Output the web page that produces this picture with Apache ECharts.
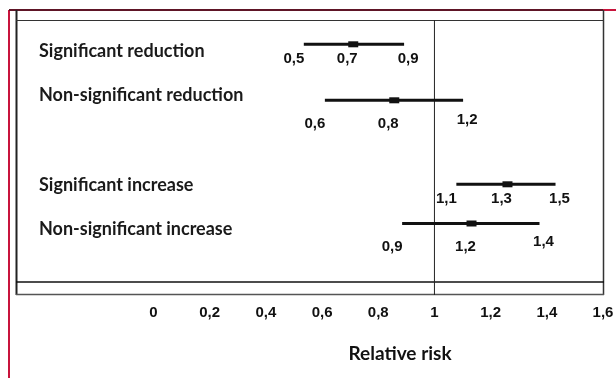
<!DOCTYPE html>
<html><head><meta charset="utf-8">
<script src="https://cdn.jsdelivr.net/npm/echarts@6/dist/echarts.min.js"></script>
<style>html,body{margin:0;padding:0;background:#fff}#c{width:616px;height:378px}</style>
</head><body><div id="c"></div>
<script>
// ---- data ----
const rowNames = ['Significant reduction', 'Non-significant reduction', 'Significant increase', 'Non-significant increase'];
const lowerVals = [0.535, 0.610, 1.078, 0.885];
const estVals   = [0.711, 0.857, 1.260, 1.132];
const upperVals = [0.892, 1.102, 1.431, 1.374];
const lowerText = ['0,5', '0,6', '1,1', '0,9'];
const estText   = ['0,7', '0,8', '1,3', '1,2'];
const upperText = ['0,9', '1,2', '1,5', '1,4'];
const xTickLabels = ['0', '0,2', '0,4', '0,6', '0,8', '1', '1,2', '1,4', '1,6'];
const referenceValue = 1;
const axisTitle = 'Relative risk';

// ---- layout (not data) ----
const rowSlot = [0, 10, 25, 32];
const slotCount = 33;
const labelDyMain = [15, 24, 15, 23];
const labelDyUpper = [15, 19.5, 15, 18.5];
const rowLabelShift = [6.4, -4.8, 1.2, 5.5];

const categories = [];
for (let s = 0; s < slotCount; s++) {
  const r = rowSlot.indexOf(s);
  categories.push(r >= 0 ? rowNames[r] : '');
}
const seriesData = rowNames.map((n, i) => [lowerVals[i], estVals[i], upperVals[i], rowSlot[i]]);

const rowRich = {};
rowLabelShift.forEach((d, i) => {
  rowRich['r' + i] = {padding: d >= 0 ? [2 * d, 0, 0, 0] : [0, 0, -2 * d, 0]};
});

const numFont = 'Liberation Sans';
const chart = echarts.init(document.getElementById('c'), null, {renderer: 'canvas'});

function txt(x, y, t) {
  return {type: 'text', x: x, y: y, style: {text: t, align: 'center', verticalAlign: 'middle',
    fontFamily: numFont, fontWeight: 'bold', fontSize: 15, fill: '#111'}};
}

const option = {
  animation: false,
  backgroundColor: '#ffffff',
  title: {text: axisTitle, left: 400, top: 344, textAlign: 'center', padding: 0,
    textStyle: {fontFamily: 'Lato', fontWeight: 'bold', fontSize: 19, color: '#111'}},
  grid: {left: 153.5, top: 41.5, width: 449.5, height: 184.8, containLabel: false, outerBoundsMode: 'none'},
  xAxis: {
    type: 'value', min: 0, max: 1.6, interval: 0.2,
    axisLine: {show: false}, axisTick: {show: false}, splitLine: {show: false},
    axisLabel: {margin: 79, showMinLabel: true, showMaxLabel: true,
      fontFamily: numFont, fontWeight: 'bold', fontSize: 15, color: '#111',
      formatter: (v) => xTickLabels[Math.round(v / 0.2)]}
  },
  yAxis: {
    type: 'category', data: categories, inverse: true,
    axisLine: {show: false}, axisTick: {show: false}, splitLine: {show: false},
    axisLabel: {align: 'left', margin: 114.5, interval: 0,
      fontFamily: 'Lato', fontWeight: 'bold', fontSize: 18, color: '#1a1a1a',
      formatter: function (v, idx) {
        const r = rowSlot.indexOf(idx);
        return r >= 0 ? '{r' + r + '|' + v + '}' : '';
      },
      rich: rowRich}
  },
  series: [{
    type: 'custom',
    encode: {x: [0, 1, 2], y: 3},
    data: seriesData,
    renderItem: function (params, api) {
      const i = params.dataIndex;
      const slot = api.value(3);
      const pL = api.coord([api.value(0), slot]);
      const pE = api.coord([api.value(1), slot]);
      const pU = api.coord([api.value(2), slot]);
      return {type: 'group', children: [
        {type: 'line', shape: {x1: pL[0], y1: pL[1], x2: pU[0], y2: pU[1]}, style: {stroke: '#111', lineWidth: 3}},
        {type: 'rect', shape: {x: pE[0] - 5, y: pE[1] - 3, width: 10, height: 6}, style: {fill: '#111'}},
        txt(pL[0] - 10, pL[1] + labelDyMain[i], lowerText[i]),
        txt(pE[0] - 6, pE[1] + labelDyMain[i], estText[i]),
        txt(pU[0] + 4, pU[1] + labelDyUpper[i], upperText[i])
      ]};
    }
  }],
  graphic: []
};
chart.setOption(option);

const refX = chart.convertToPixel({xAxisIndex: 0}, referenceValue);
const frame = [
  {type: 'line', shape: {x1: 9, y1: 10, x2: 9, y2: 378}, style: {stroke: '#c8143c', lineWidth: 2}},
  {type: 'line', shape: {x1: 603, y1: 10, x2: 616, y2: 10}, style: {stroke: '#c8143c', lineWidth: 2}},
  {type: 'line', shape: {x1: 9, y1: 10, x2: 603, y2: 10}, style: {stroke: '#5e1526', lineWidth: 2}},
  {type: 'line', shape: {x1: 16.5, y1: 10, x2: 16.5, y2: 295}, style: {stroke: '#222', lineWidth: 2}},
  {type: 'line', shape: {x1: 603.5, y1: 10, x2: 603.5, y2: 295}, style: {stroke: '#333', lineWidth: 1.5}},
  {type: 'line', shape: {x1: 16, y1: 20.5, x2: 604, y2: 20.5}, style: {stroke: '#333', lineWidth: 1.2}},
  {type: 'line', shape: {x1: 16, y1: 282, x2: 604, y2: 282}, style: {stroke: '#111', lineWidth: 1.5}},
  {type: 'line', shape: {x1: 16, y1: 294.5, x2: 604, y2: 294.5}, style: {stroke: '#555', lineWidth: 1.5}},
  {type: 'line', shape: {x1: refX, y1: 20, x2: refX, y2: 295}, style: {stroke: '#222', lineWidth: 1}}
];
chart.setOption({graphic: frame});
</script>
</body></html>
